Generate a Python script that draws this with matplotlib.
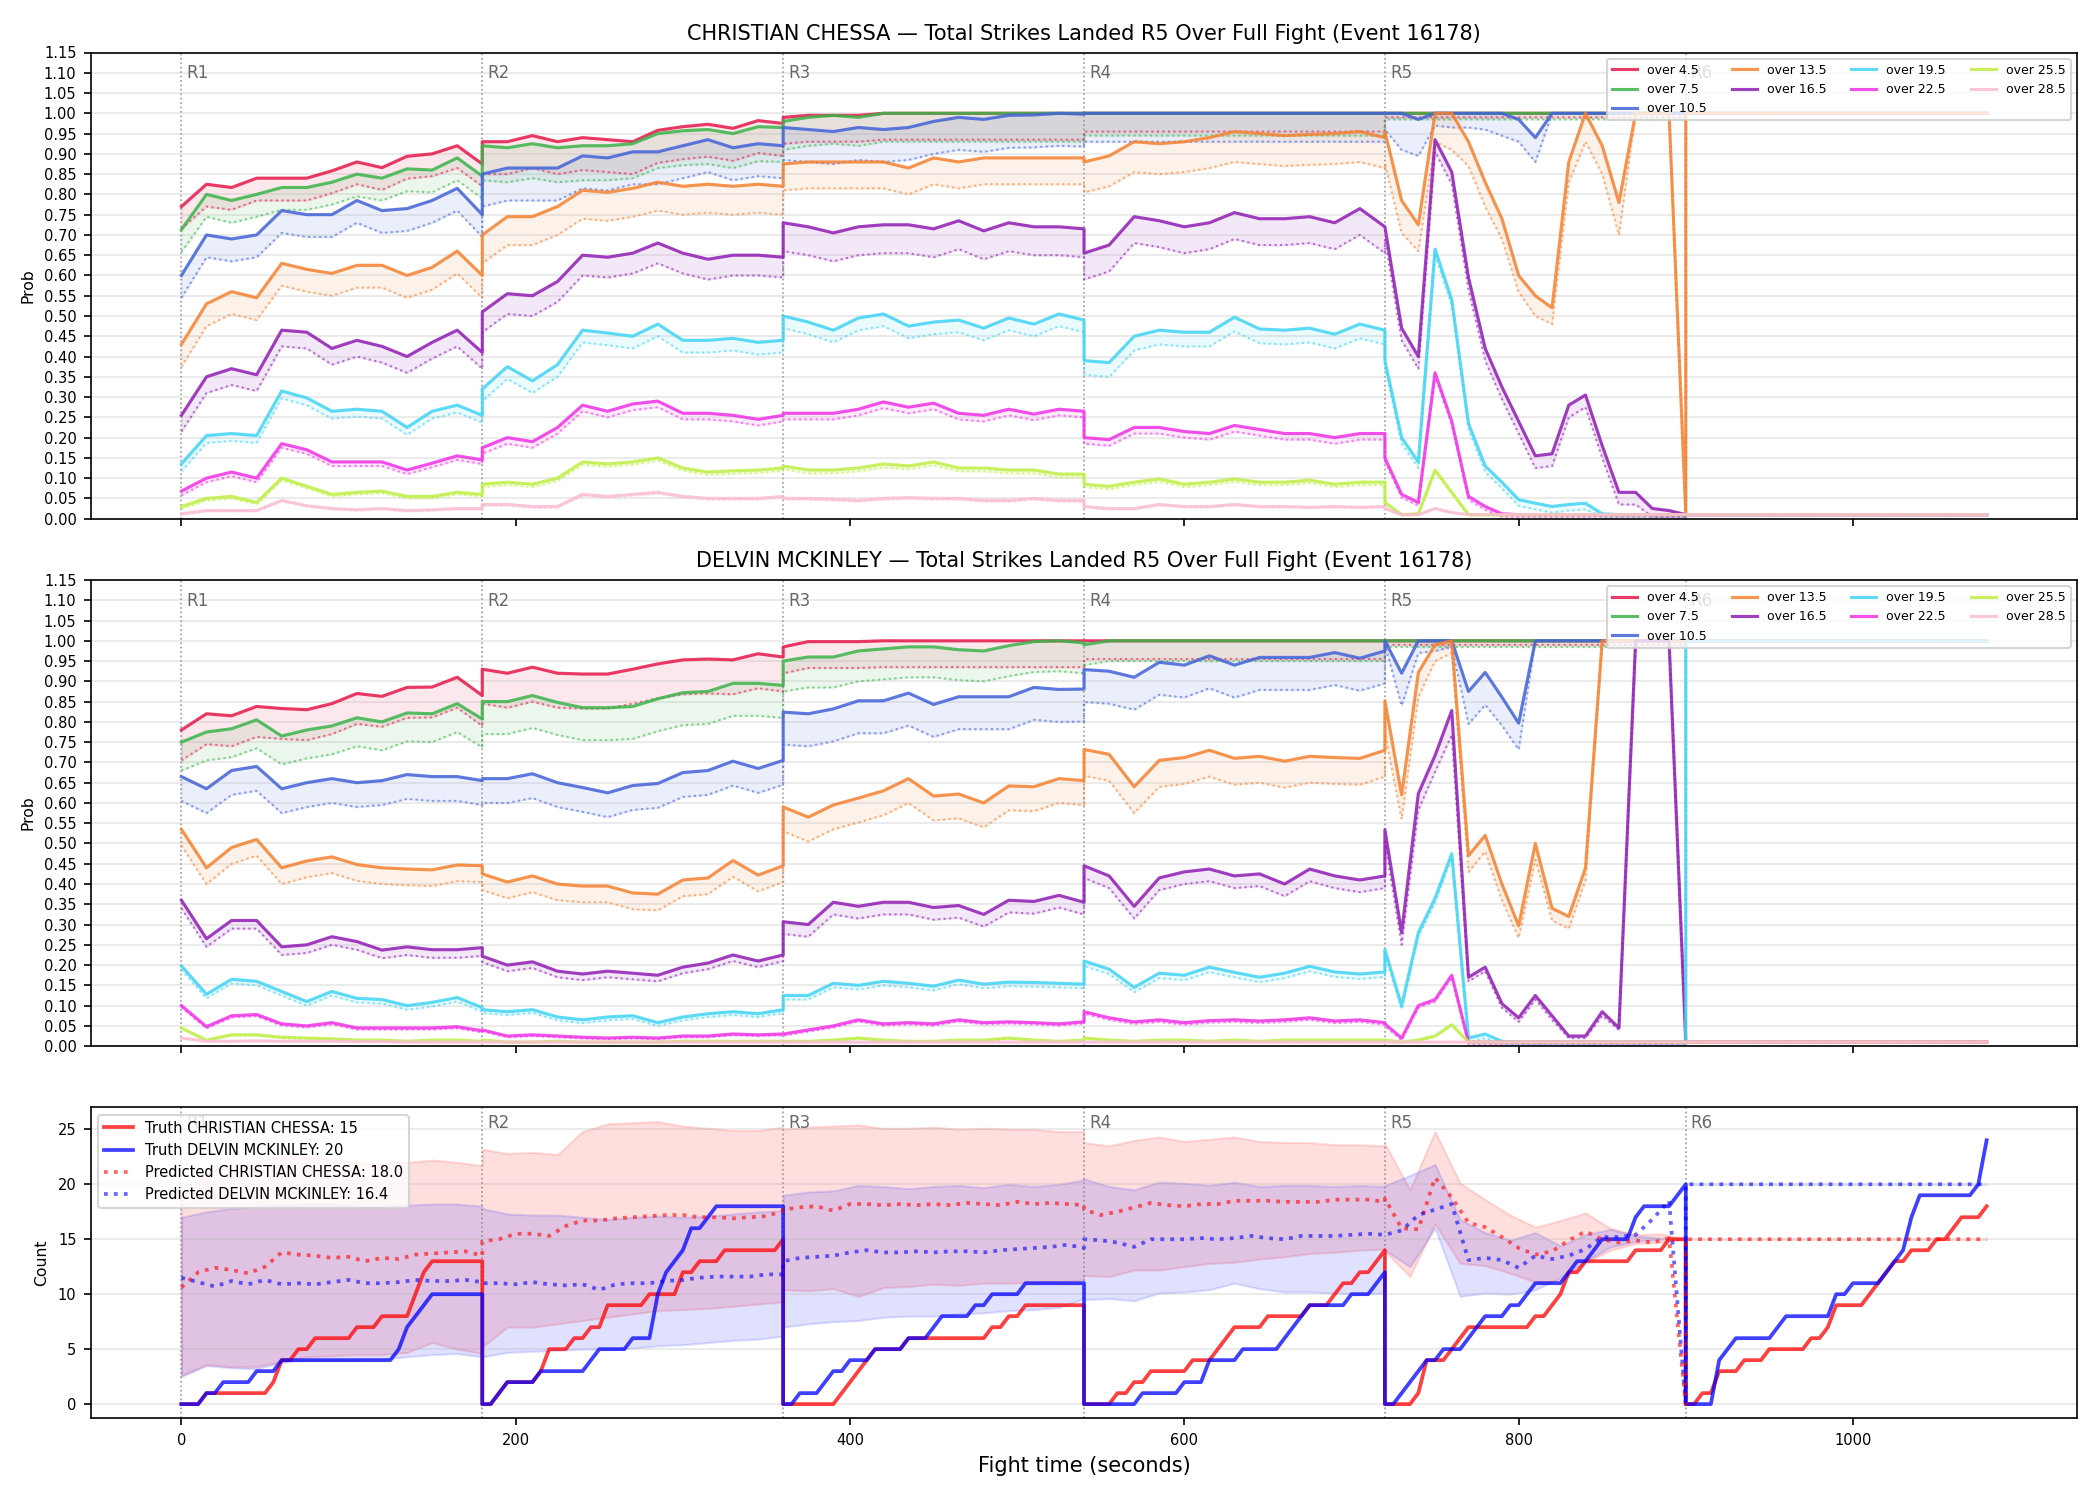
import numpy as np
import matplotlib
matplotlib.use('Agg')
import matplotlib.pyplot as plt

# Sampling grids (seconds inside a round)
steps5 = np.arange(0, 181, 5)
steps10 = np.arange(0, 181, 10)
steps15 = np.arange(0, 181, 15)
round_starts = [0, 180, 360, 540, 720, 900]
round_names = ['R1', 'R2', 'R3', 'R4', 'R5', 'R6']

labels = ['over 4.5', 'over 7.5', 'over 10.5', 'over 13.5', 'over 16.5',
          'over 19.5', 'over 22.5', 'over 25.5', 'over 28.5']
colors = ['#e6194b', '#3cb44b', '#4363d8', '#f58231', '#911eb4',
          '#42d4f4', '#f032e6', '#bfef45', '#fabed4']

# ---------------- CHRISTIAN CHESSA probabilities (15 s in R1-R4, 10 s in R5) ----------------
c_over_4_5 = ([0.77, 0.825, 0.817, 0.84, 0.84, 0.84, 0.858, 0.88, 0.866, 0.894, 0.90, 0.92, 0.875]
              + [0.93, 0.93, 0.945, 0.93, 0.94, 0.935, 0.93, 0.958, 0.967, 0.973, 0.963, 0.982, 0.975]
              + [0.99, 0.995, 0.995, 0.995, 1.0, 1.0, 1.0, 1.0, 1.0, 1.0, 1.0, 1.0, 1.0]
              + [1.0] * 13 + [1.0] * 19)
c_over_7_5 = ([0.713, 0.80, 0.785, 0.80, 0.817, 0.817, 0.83, 0.85, 0.84, 0.863, 0.86, 0.89, 0.845]
              + [0.92, 0.915, 0.925, 0.915, 0.92, 0.92, 0.925, 0.95, 0.957, 0.96, 0.95, 0.967, 0.965]
              + [0.98, 0.99, 0.995, 0.99, 1.0, 1.0, 1.0, 1.0, 1.0, 1.0, 1.0, 1.0, 1.0]
              + [1.0] * 13 + [1.0] * 19)
c_over_10_5 = ([0.60, 0.70, 0.69, 0.70, 0.76, 0.75, 0.75, 0.785, 0.76, 0.765, 0.785, 0.815, 0.75]
               + [0.85, 0.865, 0.865, 0.865, 0.895, 0.89, 0.905, 0.905, 0.92, 0.935, 0.915, 0.925, 0.92]
               + [0.965, 0.96, 0.955, 0.965, 0.96, 0.965, 0.98, 0.99, 0.985, 0.995, 0.996, 1.0, 0.998]
               + [1.0] * 13
               + [1.0, 1.0, 0.985, 1.0, 1.0, 1.0, 1.0, 1.0, 0.985, 0.94, 1.0, 1.0, 1.0, 1.0, 1.0, 1.0, 1.0, 1.0, 1.0])
c_over_13_5 = ([0.43, 0.53, 0.56, 0.545, 0.63, 0.615, 0.605, 0.625, 0.625, 0.60, 0.62, 0.66, 0.60]
               + [0.70, 0.745, 0.745, 0.77, 0.81, 0.805, 0.815, 0.83, 0.82, 0.825, 0.82, 0.825, 0.82]
               + [0.875, 0.88, 0.88, 0.88, 0.88, 0.865, 0.89, 0.88, 0.89, 0.89, 0.89, 0.89, 0.89]
               + [0.88, 0.895, 0.93, 0.925, 0.93, 0.94, 0.955, 0.95, 0.945, 0.948, 0.95, 0.955, 0.94]
               + [0.955, 0.785, 0.725, 1.0, 1.0, 0.93, 0.83, 0.74, 0.60, 0.55, 0.52, 0.88, 1.0, 0.92, 0.78, 1.0, 1.0, 1.0, 0.01])
c_over_16_5 = ([0.255, 0.35, 0.37, 0.355, 0.465, 0.46, 0.42, 0.44, 0.425, 0.40, 0.435, 0.465, 0.41]
               + [0.51, 0.555, 0.55, 0.585, 0.65, 0.645, 0.655, 0.68, 0.655, 0.64, 0.65, 0.65, 0.645]
               + [0.73, 0.72, 0.705, 0.72, 0.725, 0.725, 0.715, 0.735, 0.71, 0.73, 0.72, 0.72, 0.715]
               + [0.655, 0.675, 0.745, 0.735, 0.72, 0.73, 0.755, 0.74, 0.74, 0.745, 0.73, 0.765, 0.72]
               + [0.72, 0.47, 0.40, 0.935, 0.855, 0.595, 0.42, 0.325, 0.24, 0.155, 0.16, 0.28, 0.305, 0.18, 0.065, 0.065, 0.025, 0.02, 0.01])
c_over_19_5 = ([0.135, 0.205, 0.21, 0.205, 0.315, 0.298, 0.265, 0.27, 0.265, 0.225, 0.265, 0.28, 0.255]
               + [0.32, 0.375, 0.34, 0.38, 0.465, 0.458, 0.45, 0.48, 0.44, 0.44, 0.445, 0.435, 0.44]
               + [0.50, 0.485, 0.465, 0.495, 0.505, 0.475, 0.485, 0.49, 0.47, 0.495, 0.48, 0.505, 0.49]
               + [0.39, 0.385, 0.45, 0.465, 0.46, 0.46, 0.497, 0.468, 0.465, 0.47, 0.455, 0.48, 0.465]
               + [0.39, 0.20, 0.14, 0.665, 0.54, 0.235, 0.13, 0.09, 0.047, 0.038, 0.03, 0.035, 0.038, 0.012] + [0.01] * 5)
c_over_22_5 = ([0.068, 0.10, 0.115, 0.10, 0.185, 0.17, 0.14, 0.14, 0.14, 0.12, 0.137, 0.155, 0.145]
               + [0.175, 0.20, 0.19, 0.225, 0.28, 0.265, 0.283, 0.29, 0.26, 0.26, 0.255, 0.245, 0.255]
               + [0.26, 0.26, 0.26, 0.27, 0.288, 0.275, 0.285, 0.26, 0.255, 0.27, 0.258, 0.27, 0.265]
               + [0.20, 0.195, 0.225, 0.225, 0.215, 0.21, 0.23, 0.22, 0.21, 0.21, 0.20, 0.21, 0.21]
               + [0.15, 0.06, 0.04, 0.36, 0.24, 0.055, 0.03, 0.012] + [0.01] * 11)
c_over_25_5 = ([0.03, 0.05, 0.055, 0.04, 0.10, 0.08, 0.06, 0.065, 0.068, 0.055, 0.055, 0.065, 0.06]
               + [0.085, 0.09, 0.085, 0.10, 0.14, 0.135, 0.14, 0.15, 0.125, 0.115, 0.118, 0.12, 0.125]
               + [0.13, 0.12, 0.12, 0.125, 0.135, 0.13, 0.14, 0.125, 0.125, 0.12, 0.12, 0.11, 0.11]
               + [0.085, 0.08, 0.09, 0.098, 0.085, 0.09, 0.098, 0.09, 0.09, 0.095, 0.085, 0.09, 0.09]
               + [0.04, 0.01, 0.012, 0.12, 0.065] + [0.01] * 14)
c_over_28_5 = ([0.012, 0.02, 0.02, 0.02, 0.045, 0.032, 0.025, 0.022, 0.025, 0.02, 0.022, 0.025, 0.025]
               + [0.035, 0.035, 0.03, 0.03, 0.06, 0.055, 0.06, 0.065, 0.055, 0.05, 0.05, 0.05, 0.055]
               + [0.05, 0.05, 0.048, 0.045, 0.05, 0.052, 0.05, 0.05, 0.045, 0.045, 0.05, 0.045, 0.045]
               + [0.03, 0.025, 0.025, 0.035, 0.03, 0.03, 0.035, 0.03, 0.03, 0.028, 0.03, 0.028, 0.03]
               + [0.025, 0.01, 0.01, 0.025, 0.015] + [0.01] * 14)

# distance from solid line down to the dotted (predicted) line, per round R1..R5
c_gap_4_5 = [0.055, 0.08, 0.065, 0.045, 0.01]
c_gap_7_5 = [0.055, 0.085, 0.07, 0.055, 0.015]
c_gap_10_5 = [0.055, 0.08, 0.08, 0.07,
              [0.04, 0.09, 0.09, 0.03, 0.035, 0.035, 0.04, 0.055, 0.055, 0.06, 0, 0, 0, 0, 0, 0, 0, 0, 0]]
c_gap_13_5 = [0.055, 0.07, 0.065, 0.075,
              [0.08, 0.08, 0.065, 0.07, 0.09, 0.06, 0.06, 0.05, 0.04, 0.05, 0.04, 0.05, 0.07, 0.07, 0.08, 0, 0, 0, 0]]
c_gap_16_5 = [0.04, 0.05, 0.07, 0.065, 0.03]
c_gap_19_5 = [0.018, 0.03, 0.03, 0.035, 0.015]
c_gap_22_5 = [0.01, 0.015, 0.015, 0.015, 0.008]
c_gap_25_5 = [0.005, 0.007, 0.008, 0.007, 0.003]
c_gap_28_5 = [0.002, 0.003, 0.003, 0.002, 0.0]
c_r6_level = [1.0, 1.0, 1.0, 1.0, 0.01, 0.01, 0.01, 0.01, 0.01]

# ---------------- DELVIN MCKINLEY probabilities ----------------
m_over_4_5 = ([0.78, 0.82, 0.815, 0.838, 0.833, 0.83, 0.845, 0.87, 0.863, 0.885, 0.886, 0.91, 0.865]
              + [0.93, 0.92, 0.935, 0.92, 0.918, 0.918, 0.93, 0.943, 0.953, 0.955, 0.953, 0.968, 0.96]
              + [0.985, 0.998, 0.998, 0.998, 1.0, 1.0, 1.0, 1.0, 1.0, 1.0, 1.0, 1.0, 1.0]
              + [1.0] * 13 + [1.0] * 19)
m_over_7_5 = ([0.75, 0.775, 0.783, 0.805, 0.765, 0.78, 0.79, 0.81, 0.80, 0.822, 0.82, 0.845, 0.807]
              + [0.85, 0.85, 0.865, 0.848, 0.835, 0.835, 0.838, 0.857, 0.872, 0.875, 0.895, 0.895, 0.89]
              + [0.95, 0.96, 0.96, 0.975, 0.98, 0.985, 0.985, 0.978, 0.975, 0.988, 0.998, 1.0, 0.995]
              + [0.99] + [1.0] * 12 + [1.0] * 19)
m_over_10_5 = ([0.665, 0.635, 0.68, 0.69, 0.635, 0.65, 0.66, 0.65, 0.655, 0.67, 0.665, 0.665, 0.655]
               + [0.66, 0.66, 0.672, 0.65, 0.638, 0.625, 0.643, 0.648, 0.675, 0.68, 0.703, 0.685, 0.705]
               + [0.824, 0.82, 0.832, 0.852, 0.852, 0.871, 0.843, 0.862, 0.862, 0.862, 0.885, 0.88, 0.881]
               + [0.929, 0.925, 0.91, 0.947, 0.94, 0.963, 0.94, 0.959, 0.959, 0.959, 0.971, 0.957, 0.975]
               + [1.0, 0.92, 1.0, 1.0, 1.0, 0.875, 0.922, 0.861, 0.797, 1.0, 1.0, 1.0, 1.0, 1.0, 1.0, 1.0, 1.0, 1.0, 1.0])
m_over_13_5 = ([0.535, 0.44, 0.49, 0.51, 0.44, 0.457, 0.467, 0.448, 0.44, 0.437, 0.435, 0.447, 0.445]
               + [0.425, 0.405, 0.42, 0.40, 0.395, 0.395, 0.378, 0.375, 0.41, 0.415, 0.458, 0.422, 0.445]
               + [0.59, 0.565, 0.595, 0.612, 0.63, 0.66, 0.617, 0.622, 0.60, 0.642, 0.64, 0.66, 0.655]
               + [0.732, 0.72, 0.64, 0.705, 0.712, 0.73, 0.71, 0.715, 0.703, 0.715, 0.712, 0.71, 0.73]
               + [0.852, 0.62, 0.922, 0.99, 1.0, 0.47, 0.52, 0.40, 0.297, 0.50, 0.34, 0.32, 0.44, 1.0, 1.0, 1.0, 1.0, 1.0, 1.0])
m_over_16_5 = ([0.36, 0.265, 0.31, 0.31, 0.245, 0.25, 0.27, 0.258, 0.237, 0.245, 0.238, 0.238, 0.243]
               + [0.222, 0.2, 0.208, 0.185, 0.178, 0.185, 0.18, 0.175, 0.195, 0.205, 0.225, 0.21, 0.225]
               + [0.307, 0.30, 0.355, 0.345, 0.355, 0.355, 0.342, 0.347, 0.325, 0.36, 0.357, 0.372, 0.355]
               + [0.445, 0.42, 0.345, 0.415, 0.43, 0.437, 0.42, 0.425, 0.40, 0.437, 0.42, 0.41, 0.42]
               + [0.534, 0.28, 0.623, 0.717, 0.828, 0.17, 0.195, 0.105, 0.07, 0.125, 0.075, 0.025, 0.025, 0.085, 0.045, 1.0, 1.0, 1.0, 0.01])
m_over_19_5 = ([0.198, 0.128, 0.165, 0.16, 0.135, 0.11, 0.135, 0.118, 0.115, 0.10, 0.108, 0.12, 0.095]
               + [0.09, 0.085, 0.09, 0.072, 0.065, 0.072, 0.075, 0.058, 0.072, 0.08, 0.085, 0.08, 0.09]
               + [0.125, 0.125, 0.155, 0.15, 0.16, 0.155, 0.148, 0.163, 0.153, 0.158, 0.157, 0.155, 0.153]
               + [0.21, 0.19, 0.145, 0.18, 0.175, 0.195, 0.182, 0.17, 0.18, 0.197, 0.183, 0.178, 0.183]
               + [0.238, 0.10, 0.28, 0.365, 0.475, 0.02, 0.03, 0.012] + [0.01] * 11)
m_over_22_5 = ([0.10, 0.048, 0.075, 0.078, 0.055, 0.05, 0.058, 0.045, 0.045, 0.045, 0.045, 0.048, 0.038]
               + [0.04, 0.025, 0.028, 0.025, 0.022, 0.02, 0.022, 0.02, 0.025, 0.025, 0.03, 0.028, 0.03]
               + [0.03, 0.04, 0.05, 0.065, 0.055, 0.058, 0.055, 0.065, 0.058, 0.06, 0.058, 0.055, 0.06]
               + [0.085, 0.07, 0.06, 0.065, 0.058, 0.063, 0.065, 0.062, 0.065, 0.07, 0.062, 0.065, 0.058]
               + [0.055, 0.02, 0.10, 0.115, 0.175] + [0.01] * 14)
m_over_25_5 = ([0.045, 0.015, 0.028, 0.028, 0.022, 0.02, 0.018, 0.015, 0.015, 0.012, 0.015, 0.015, 0.012]
               + [0.015, 0.01, 0.01, 0.012, 0.01, 0.01, 0.01, 0.01, 0.012, 0.012, 0.012, 0.012, 0.012]
               + [0.012, 0.012, 0.015, 0.02, 0.015, 0.012, 0.012, 0.015, 0.015, 0.02, 0.015, 0.012, 0.015]
               + [0.02, 0.015, 0.012, 0.015, 0.015, 0.012, 0.015, 0.012, 0.015, 0.015, 0.015, 0.015, 0.015]
               + [0.015, 0.01, 0.015, 0.025, 0.053] + [0.01] * 14)
m_over_28_5 = ([0.02, 0.012, 0.012, 0.013, 0.012, 0.012, 0.012, 0.011, 0.011, 0.01, 0.01, 0.01, 0.01]
               + [0.01] * 13 + [0.01] * 13 + [0.01] * 13 + [0.01] * 19)

m_gap_4_5 = [0.075, 0.085, 0.065, 0.045, 0.01]
m_gap_7_5 = [0.07, 0.08, 0.075, 0.05, 0.015]
m_gap_10_5 = [0.06, 0.06, 0.08, 0.08,
              [0.01, 0.08, 0.03, 0.025, 0.015, 0.08, 0.08, 0.07, 0.065, 0, 0, 0, 0, 0, 0, 0, 0, 0, 0]]
m_gap_13_5 = [0.04, 0.04, 0.06, 0.065,
              [0.08, 0.06, 0.06, 0.04, 0.03, 0.04, 0.04, 0.04, 0.03, 0.04, 0.03, 0.03, 0.03, 0, 0, 0, 0, 0, 0]]
m_gap_16_5 = [0.02, 0.015, 0.03, 0.03,
              [0.03, 0.03, 0.04, 0.04, 0.06, 0.01, 0.01, 0.01, 0.01, 0.01, 0.01, 0.005, 0.005, 0.01, 0.005, 0, 0, 0, 0]]
m_gap_19_5 = [0.01, 0.008, 0.01, 0.012, 0.01]
m_gap_22_5 = [0.004, 0.003, 0.004, 0.005, 0.005]
m_gap_25_5 = [0.002, 0.001, 0.002, 0.002, 0.002]
m_gap_28_5 = [0, 0, 0, 0, 0]
m_r6_level = [1.0, 1.0, 1.0, 1.0, 0.01, 1.0, 0.01, 0.01, 0.01]

# ---------------- Truth counts (5 s steps, R1..R6) ----------------
truth_chessa = ([0, 0, 0, 1, 1, 1, 1, 1, 1, 1, 1, 2, 4, 4, 5, 5, 6, 6, 6, 6, 6, 7, 7, 7, 8, 8, 8, 8, 10, 12, 13, 13, 13, 13, 13, 13, 13]
                + [0, 0, 1, 2, 2, 2, 2, 3, 5, 5, 5, 6, 6, 7, 7, 9, 9, 9, 9, 9, 10, 10, 10, 10, 12, 12, 13, 13, 13, 14, 14, 14, 14, 14, 14, 14, 15]
                + [0] * 7 + [1, 2, 3, 4, 5, 5, 5, 5, 6] + [6] * 9 + [7, 7, 8, 8, 9] + [9] * 7
                + [0, 0, 0, 0, 1, 1, 2, 2, 3, 3, 3, 3, 3, 4, 4, 4, 5, 6, 7, 7, 7, 7, 8, 8, 8, 8, 8, 9, 9, 9, 10, 11, 11, 12, 12, 13, 14]
                + [0, 0, 0, 0, 1, 4, 4, 4, 5, 6, 7, 7, 7, 7, 7, 7, 7, 7, 8, 8, 9, 10, 12, 12, 13, 13, 13, 13, 13, 13, 14, 14, 14, 14, 15, 15, 15]
                + [0, 0, 1, 1, 3, 3, 3, 4, 4, 4, 5, 5, 5, 5, 5, 6, 6, 7, 9, 9, 9, 9, 10, 11, 12, 13, 13, 14, 14, 14, 15, 15, 16, 17, 17, 17, 18])
truth_mckinley = ([0, 0, 0, 1, 1, 2, 2, 2, 2, 3, 3, 3, 4, 4, 4, 4, 4, 4, 4, 4, 4, 4, 4, 4, 4, 4, 5, 7, 8, 9, 10, 10, 10, 10, 10, 10, 10]
                  + [0, 0, 1, 2, 2, 2, 2, 3, 3, 3, 3, 3, 3, 4, 5, 5, 5, 5, 6, 6, 6, 10, 12, 13, 14, 16, 16, 17, 18, 18, 18, 18, 18, 18, 18, 18, 18]
                  + [0, 0, 1, 1, 1, 2, 3, 3, 4, 4, 4, 5, 5, 5, 5, 6, 6, 6, 7, 8, 8, 8, 8, 9, 9, 10, 10, 10, 10, 11, 11, 11, 11, 11, 11, 11, 11]
                  + [0, 0, 0, 0, 0, 0, 0, 1, 1, 1, 1, 1, 2, 2, 2, 4, 4, 4, 4, 5, 5, 5, 5, 5, 6, 7, 8, 9, 9, 9, 9, 9, 10, 10, 10, 11, 12]
                  + [0, 0, 1, 2, 3, 4, 4, 5, 5, 5, 6, 7, 8, 8, 8, 9, 9, 10, 11, 11, 11, 11, 12, 13, 13, 14, 15, 15, 15, 15, 17, 18, 18, 18, 18, 19, 20]
                  + [0, 0, 0, 0, 4, 5, 6, 6, 6, 6, 6, 7, 8, 8, 8, 8, 8, 8, 10, 10, 11, 11, 11, 11, 12, 13, 14, 17, 19, 19, 19, 19, 19, 19, 19, 20, 24])

# ---------------- Predicted counts (10 s steps, R1..R6) ----------------
pred_chessa = ([10.6, 12.0, 12.4, 12.2, 11.9, 12.5, 13.8, 13.6, 13.5, 13.3, 13.4, 13.0, 13.3, 13.2, 13.6, 13.7, 13.8, 13.9, 13.5]
               + [14.8, 15.0, 15.5, 15.5, 15.3, 16.2, 16.7, 16.7, 16.9, 17.0, 17.1, 17.2, 17.2, 17.0, 17.0, 16.9, 17.0, 17.1, 17.6]
               + [17.7, 17.9, 18.0, 17.6, 18.2, 18.2, 18.1, 18.2, 18.1, 18.2, 18.1, 18.3, 18.2, 18.1, 18.4, 18.2, 18.3, 18.2, 18.1]
               + [17.7, 17.2, 17.5, 17.9, 18.3, 18.1, 18.0, 18.2, 18.2, 18.5, 18.5, 18.5, 18.4, 18.4, 18.4, 18.6, 18.6, 18.6, 18.4]
               + [18.7, 16.0, 15.9, 20.6, 18.8, 16.5, 16.1, 15.2, 14.2, 13.6, 13.9, 14.9, 15.7, 15.0, 14.7, 14.9, 14.7, 15.1, 0.0]
               + [15.0] * 19)
pred_mckinley = ([11.5, 11.1, 10.7, 11.2, 10.9, 11.3, 10.9, 11.0, 10.9, 11.1, 11.3, 11.0, 11.0, 11.1, 11.3, 11.2, 11.2, 11.3, 11.1]
                 + [11.0, 11.0, 10.9, 11.1, 10.9, 10.8, 10.9, 10.4, 10.9, 11.0, 11.0, 11.2, 11.3, 11.5, 11.6, 11.6, 11.6, 11.8, 11.8]
                 + [13.0, 13.3, 13.4, 13.5, 13.8, 14.0, 13.8, 13.8, 13.9, 13.8, 13.9, 13.9, 13.8, 14.0, 14.1, 14.2, 14.3, 14.5, 14.2]
                 + [15.0, 14.9, 14.7, 14.3, 15.0, 15.0, 15.0, 15.1, 15.0, 15.1, 15.3, 15.1, 15.0, 15.3, 15.3, 15.3, 15.4, 15.5, 15.4]
                 + [15.4, 15.8, 17.2, 17.7, 18.2, 13.1, 13.3, 13.1, 12.4, 13.5, 13.2, 13.5, 14.1, 15.2, 15.2, 15.4, 16.8, 18.5, 0.0]
                 + [20.0] * 19)

# prediction bands (15 s steps, R1..R6)
chessa_hi = ([19.0, 21.0, 21.8, 22.2, 22.5, 22.5, 22.3, 22.0, 21.8, 22.0, 22.2, 22.0, 21.7]
             + [23.2, 22.8, 22.9, 22.7, 24.8, 25.5, 25.6, 25.7, 25.3, 25.1, 24.9, 24.9, 25.2]
             + [25.0, 25.2, 25.3, 25.4, 25.1, 25.1, 25.2, 25.0, 25.1, 25.0, 25.0, 24.8, 24.8]
             + [23.8, 23.5, 24.0, 24.3, 23.9, 24.1, 24.3, 23.9, 23.8, 23.8, 23.6, 23.6, 23.5]
             + [23.7, 19.5, 24.8, 20.1, 18.6, 17.2, 16.1, 16.7, 17.4, 16.0, 15.4, 15.5, 15.0]
             + [15.0] * 13)
chessa_lo = ([2.6, 3.6, 3.4, 3.4, 3.9, 4.3, 4.4, 4.5, 4.5, 4.7, 5.6, 5.0, 4.6]
             + [5.2, 7.0, 7.0, 7.3, 7.6, 7.9, 8.2, 8.5, 8.6, 8.7, 8.9, 9.1, 9.3]
             + [10.4, 10.3, 10.5, 9.8, 10.6, 10.7, 10.9, 10.8, 11.0, 11.0, 11.1, 11.1, 11.3]
             + [11.7, 11.6, 12.2, 12.2, 12.5, 12.8, 12.9, 13.2, 13.4, 13.7, 13.8, 14.0, 14.1]
             + [13.9, 11.6, 16.4, 12.8, 12.6, 11.9, 11.1, 11.2, 12.9, 14.0, 14.6, 14.7, 15.0]
             + [15.0] * 13)
mckinley_hi = ([17.0, 17.5, 17.8, 18.0, 18.1, 18.2, 18.2, 18.0, 18.0, 18.1, 18.2, 18.2, 18.0]
               + [17.8, 17.3, 17.2, 17.2, 17.0, 16.8, 17.0, 17.1, 17.0, 17.1, 17.3, 17.5, 17.6]
               + [19.0, 19.3, 19.4, 19.9, 19.8, 19.6, 19.8, 19.9, 19.7, 20.0, 19.8, 20.0, 20.4]
               + [20.5, 19.8, 19.5, 20.2, 20.1, 19.9, 20.2, 19.8, 19.9, 19.9, 19.8, 19.9, 19.8]
               + [19.9, 20.8, 21.8, 16.8, 15.6, 14.9, 15.6, 14.4, 15.4, 15.9, 15.3, 15.1, 15.0]
               + [20.0] * 13)
mckinley_lo = ([2.5, 3.5, 3.3, 3.2, 3.8, 4.0, 4.0, 4.0, 4.1, 4.3, 4.5, 4.6, 4.3]
               + [4.3, 4.7, 4.8, 4.9, 5.0, 5.0, 5.1, 5.3, 5.4, 5.6, 5.8, 5.9, 6.2]
               + [7.0, 7.3, 7.5, 7.6, 7.9, 8.0, 8.0, 8.2, 8.3, 8.5, 8.6, 8.8, 9.6]
               + [9.5, 9.6, 9.4, 10.1, 10.2, 10.4, 11.0, 10.5, 10.2, 10.2, 10.1, 10.0, 10.1]
               + [14.0, 12.5, 16.0, 9.8, 10.1, 10.0, 10.4, 11.5, 13.0, 14.3, 14.8, 15.0, 15.0]
               + [20.0] * 13)

# time axes
prob_t = np.concatenate([s + steps15 for s in round_starts[:4]] + [720 + steps10])
truth_t = np.concatenate([s + steps5 for s in round_starts])
pred_t = np.concatenate([s + steps10 for s in round_starts])
band_t = np.concatenate([s + steps15 for s in round_starts])
r6_t = np.array([900, 1080])

chessa_series = [c_over_4_5, c_over_7_5, c_over_10_5, c_over_13_5, c_over_16_5,
                 c_over_19_5, c_over_22_5, c_over_25_5, c_over_28_5]
chessa_gaps = [c_gap_4_5, c_gap_7_5, c_gap_10_5, c_gap_13_5, c_gap_16_5,
               c_gap_19_5, c_gap_22_5, c_gap_25_5, c_gap_28_5]
mckinley_series = [m_over_4_5, m_over_7_5, m_over_10_5, m_over_13_5, m_over_16_5,
                   m_over_19_5, m_over_22_5, m_over_25_5, m_over_28_5]
mckinley_gaps = [m_gap_4_5, m_gap_7_5, m_gap_10_5, m_gap_13_5, m_gap_16_5,
                 m_gap_19_5, m_gap_22_5, m_gap_25_5, m_gap_28_5]

round_slices = [slice(0, 13), slice(13, 26), slice(26, 39), slice(39, 52), slice(52, 71)]


def round_marks(ax, ypos):
    for name, s in zip(round_names, round_starts):
        ax.axvline(s, color='gray', linestyle=':', linewidth=0.8, alpha=0.8, zorder=1)
        ax.text(s + 3, ypos, name, transform=ax.get_xaxis_transform(),
                fontsize=8, color='dimgray', va='center', ha='left')


def prob_panel(ax, series, gaps, r6_level, fighter):
    for label, color, vals, gap, lvl in zip(labels, colors, series, gaps, r6_level):
        vals = np.asarray(vals, dtype=float)
        pred = vals.copy()
        for sl, g in zip(round_slices, gap):
            pred[sl] = vals[sl] - np.asarray(g, dtype=float)
        pred = np.clip(pred, 0.005, None)
        t = np.concatenate([prob_t, r6_t])
        v = np.concatenate([vals, [lvl, lvl]])
        p = np.concatenate([pred, [lvl, lvl]])
        ax.fill_between(t, p, v, color=color, alpha=0.1)
        ax.plot(t, v, color=color, linewidth=1.5, alpha=0.85, label=label)
        ax.plot(t, p, color=color, linewidth=1.0, linestyle=':', alpha=0.6)
    round_marks(ax, 0.955)
    ax.set_ylim(0, 1.15)
    ax.set_yticks(np.arange(0, 1.151, 0.05))
    ax.set_ylabel('Prob', fontsize=7.5)
    ax.set_title(f'{fighter} \u2014 Total Strikes Landed R5 Over Full Fight (Event 16178)', fontsize=10)
    ax.grid(axis='y', alpha=0.3)
    ax.tick_params(labelsize=7)
    ax.legend(loc='upper right', ncol=4, fontsize=6)
    plt.setp(ax.get_xticklabels(), visible=False)


fig = plt.figure(figsize=(14, 10), dpi=150)
gs = fig.add_gridspec(3, 1, height_ratios=[3, 3, 2], left=0.0434, right=0.989,
                      top=0.965, bottom=0.0545, hspace=0.148)
ax1 = fig.add_subplot(gs[0])
ax2 = fig.add_subplot(gs[1], sharex=ax1)
ax3 = fig.add_subplot(gs[2], sharex=ax1)

prob_panel(ax1, chessa_series, chessa_gaps, c_r6_level, 'CHRISTIAN CHESSA')
prob_panel(ax2, mckinley_series, mckinley_gaps, m_r6_level, 'DELVIN MCKINLEY')

# Count panel
ax3.fill_between(band_t, chessa_lo, chessa_hi, color='red', alpha=0.13)
ax3.fill_between(band_t, mckinley_lo, mckinley_hi, color='blue', alpha=0.12)
ax3.plot(truth_t, truth_chessa, color='red', linewidth=1.8, alpha=0.75, label='Truth CHRISTIAN CHESSA: 15')
ax3.plot(truth_t, truth_mckinley, color='blue', linewidth=1.8, alpha=0.75, label='Truth DELVIN MCKINLEY: 20')
ax3.plot(pred_t, pred_chessa, color='red', linewidth=1.8, linestyle=':', alpha=0.6,
         label='Predicted CHRISTIAN CHESSA: 18.0')
ax3.plot(pred_t, pred_mckinley, color='blue', linewidth=1.8, linestyle=':', alpha=0.6,
         label='Predicted DELVIN MCKINLEY: 16.4')
round_marks(ax3, 0.95)
ax3.set_ylabel('Count', fontsize=7.5)
ax3.set_xlabel('Fight time (seconds)', fontsize=10)
ax3.grid(axis='y', alpha=0.3)
ax3.tick_params(labelsize=7)
ax3.legend(loc='upper left', fontsize=7)

fig.savefig('out.png', dpi=150)
